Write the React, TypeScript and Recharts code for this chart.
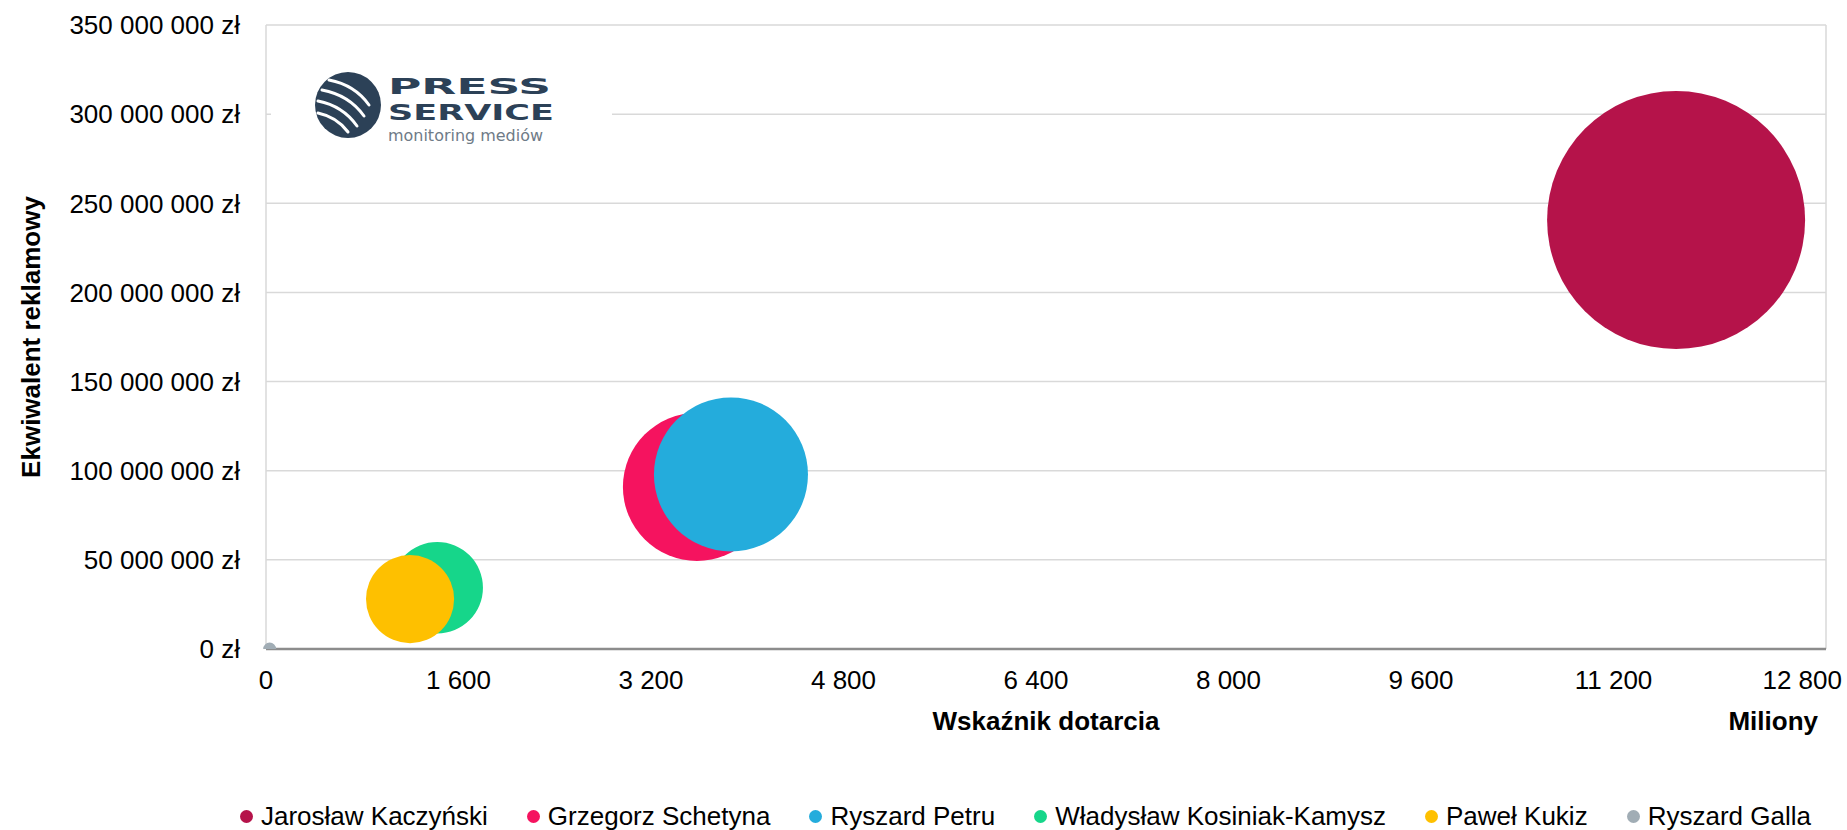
import React from "react"
import {
  ScatterChart,
  Scatter,
  XAxis,
  YAxis,
  ZAxis,
  CartesianGrid,
  ReferenceLine,
  Label,
} from "recharts"

// politicians, in drawing / legend order
const names = [
  "Jarosław Kaczyński",
  "Grzegorz Schetyna",
  "Ryszard Petru",
  "Władysław Kosiniak-Kamysz",
  "Paweł Kukiz",
  "Ryszard Galla",
]
const colors = ["#b5134a", "#f5135f", "#24acdc", "#16d68a", "#fec000", "#a1adb5"]

// reach index (millions), advertising equivalent (zł), bubble size
const reach = [11570, 3536, 3815, 1405, 1182, 30]
const adValue = [240600000, 90900000, 97900000, 34400000, 28000000, 0]
const bubble = [16640, 5480, 5930, 2090, 1940, 42]

const xTicks = [0, 1600, 3200, 4800, 6400, 8000, 9600, 11200, 12800]
const yTicks = [0, 50000000, 100000000, 150000000, 200000000, 250000000, 300000000, 350000000]

const FONT = '"Liberation Sans", Arial, sans-serif'

const spaced = (v: number) => String(v).replace(/\B(?=(\d{3})+(?!\d))/g, " ")

function XTick({ x, y, payload }: any) {
  const v = payload.value as number
  const last = v === 12800
  return (
    <text
      x={last ? x + 16 : x - (v / 12800) * 20}
      y={y + 40}
      textAnchor={last ? "end" : "middle"}
      fontSize={26}
      fontFamily={FONT}
      fill="#000"
    >
      {spaced(v)}
    </text>
  )
}

function XLabels({ viewBox }: any) {
  const { x, y, width } = viewBox
  return (
    <g fontFamily={FONT} fontSize={26} fontWeight="bold" fill="#000">
      <text x={x + width / 2} y={y + 81} textAnchor="middle">Wskaźnik dotarcia</text>
      <text x={x + width - 8} y={y + 81} textAnchor="end">Miliony</text>
    </g>
  )
}

function YLabel({ viewBox }: any) {
  const { y, height } = viewBox
  return (
    <text
      transform="rotate(-90)"
      x={-(y + height / 2)}
      y={40}
      textAnchor="middle"
      fontFamily={FONT}
      fontSize={26}
      fontWeight="bold"
      fill="#000"
    >
      Ekwiwalent reklamowy
    </text>
  )
}

function Logo() {
  return (
    <svg
      width={341}
      height={115}
      style={{ position: "absolute", left: 271, top: 45, background: "#fff" }}
    >
      <circle cx={77} cy={60} r={33} fill="#2c4157" />
      <g stroke="#fff" strokeWidth={3} fill="none" strokeLinecap="round">
        <path d="M 58 35 Q 84 40 98 60" />
        <path d="M 51 45 Q 78 50 93 71" />
        <path d="M 47 56 Q 72 61 86 81" />
        <path d="M 47 68 Q 66 72 77 87" />
      </g>
      <text x={117} y={49} fontFamily='"DejaVu Sans"' fontWeight={900} fontSize={22}
        textLength={163} lengthAdjust="spacingAndGlyphs" fill="#2c4157">PRESS</text>
      <text x={117} y={75} fontFamily='"DejaVu Sans"' fontWeight={900} fontSize={22}
        textLength={166} lengthAdjust="spacingAndGlyphs" fill="#2c4157">SERVICE</text>
      <text x={117} y={96} fontFamily='"DejaVu Sans"' fontSize={15}
        textLength={155} lengthAdjust="spacingAndGlyphs" fill="#6f7b87">monitoring mediów</text>
    </svg>
  )
}

export default function App() {
  return (
    <div style={{ position: "absolute", left: 0, top: 0, width: 1847, height: 830, background: "#fff" }}>
      <ScatterChart width={1847} height={830} margin={{ top: 25, right: 21, bottom: 0, left: 0 }}>
        <CartesianGrid vertical={false} stroke="#d9d9d9" strokeWidth={1.5} />
        <XAxis
          type="number"
          dataKey="x"
          domain={[0, 12800]}
          ticks={xTicks}
          height={181}
          tickLine={false}
          tickSize={0}
          tickMargin={0}
          tick={<XTick />}
          axisLine={{ stroke: "#8c8c8c", strokeWidth: 2.5 }}
        >
          <Label content={<XLabels />} />
        </XAxis>
        <YAxis
          type="number"
          dataKey="y"
          domain={[0, 350000000]}
          ticks={yTicks}
          allowDataOverflow
          width={266}
          tickLine={false}
          tickSize={0}
          tickMargin={26}
          tickFormatter={(v: number) => `${spaced(v)} zł`}
          tick={{ fontSize: 26, fill: "#000", fontFamily: FONT }}
          axisLine={{ stroke: "#d9d9d9", strokeWidth: 1.5 }}
        >
          <Label content={<YLabel />} />
        </YAxis>
        <ZAxis type="number" dataKey="z" domain={[0, 16640]} range={[0, Math.PI * 129 * 129]} />
        <ReferenceLine x={12800} stroke="#d9d9d9" strokeWidth={1.5} />
        {names.map((n, i) => (
          <Scatter
            key={n}
            name={n}
            data={[{ x: reach[i], y: adValue[i], z: bubble[i] }]}
            fill={colors[i]}
            isAnimationActive={false}
          />
        ))}
      </ScatterChart>
      <Logo />
      <div
        style={{
          position: "absolute",
          left: 240,
          top: 803,
          display: "flex",
          gap: 39,
          fontFamily: FONT,
          fontSize: 26,
          lineHeight: "26px",
          color: "#000",
          whiteSpace: "nowrap",
        }}
      >
        {names.map((n, i) => (
          <div key={n} style={{ display: "flex", alignItems: "center" }}>
            <span
              style={{
                display: "inline-block",
                width: 13,
                height: 13,
                borderRadius: "50%",
                background: colors[i],
                marginRight: 8,
              }}
            />
            {n}
          </div>
        ))}
      </div>
    </div>
  )
}
